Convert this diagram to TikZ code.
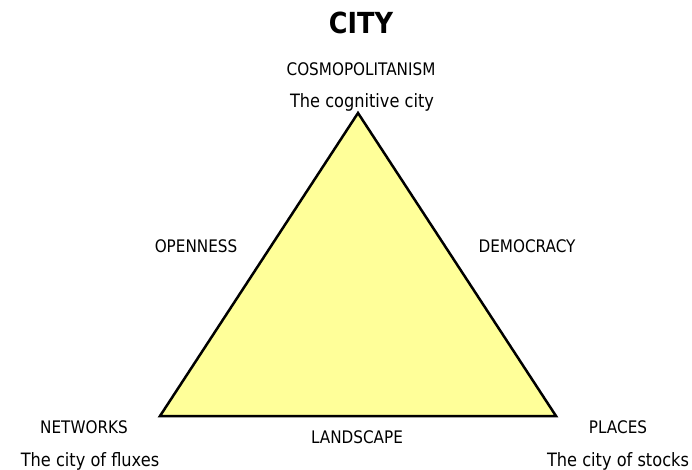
\documentclass[tikz,border=0pt]{standalone}
\usepackage{fontspec}
\setmainfont{DejaVu Sans}[FakeStretch=0.88]
\begin{document}
\begin{tikzpicture}[x=1pt,y=-1pt,
  caps/.style={anchor=base,inner sep=0pt,font=\fontsize{17.3}{19}\selectfont},
  sub/.style={anchor=base,inner sep=0pt,font=\fontsize{18.4}{20}\selectfont},
  side/.style={draw=black,line width=2.5pt,line join=miter,fill=yellowfill}]
\definecolor{yellowfill}{RGB}{255,255,153}
\useasboundingbox (0,0) rectangle (692,469);
\clip (0,0) rectangle (692,469);

% corners of the triangle
\coordinate (top) at (358,113);
\coordinate (left) at (160,416);
\coordinate (right) at (556,416);
\filldraw[side] (top) -- (left) -- (right) -- cycle;

% title
\node[anchor=base,inner sep=0pt,font=\fontsize{29}{31}\selectfont\bfseries] (title) at (361,33) {CITY};

% vertex labels
\node[caps] (cosmo) at (361,75) {COSMOPOLITANISM};
\node[sub] (cognitive) at (362,107) {The cognitive city};
\node[caps] (networks) at (84,433) {NETWORKS};
\node[sub] (fluxes) at (90,466) {The city of fluxes};
\node[caps] (places) at (618,433) {PLACES};
\node[sub] (stocks) at (618,466) {The city of stocks};

% side labels
\node[caps] (openness) at (196,252) {OPENNESS};
\node[caps] (democracy) at (527,252) {DEMOCRACY};
\node[caps] (landscape) at (357,443) {LANDSCAPE};
\end{tikzpicture}
\end{document}
